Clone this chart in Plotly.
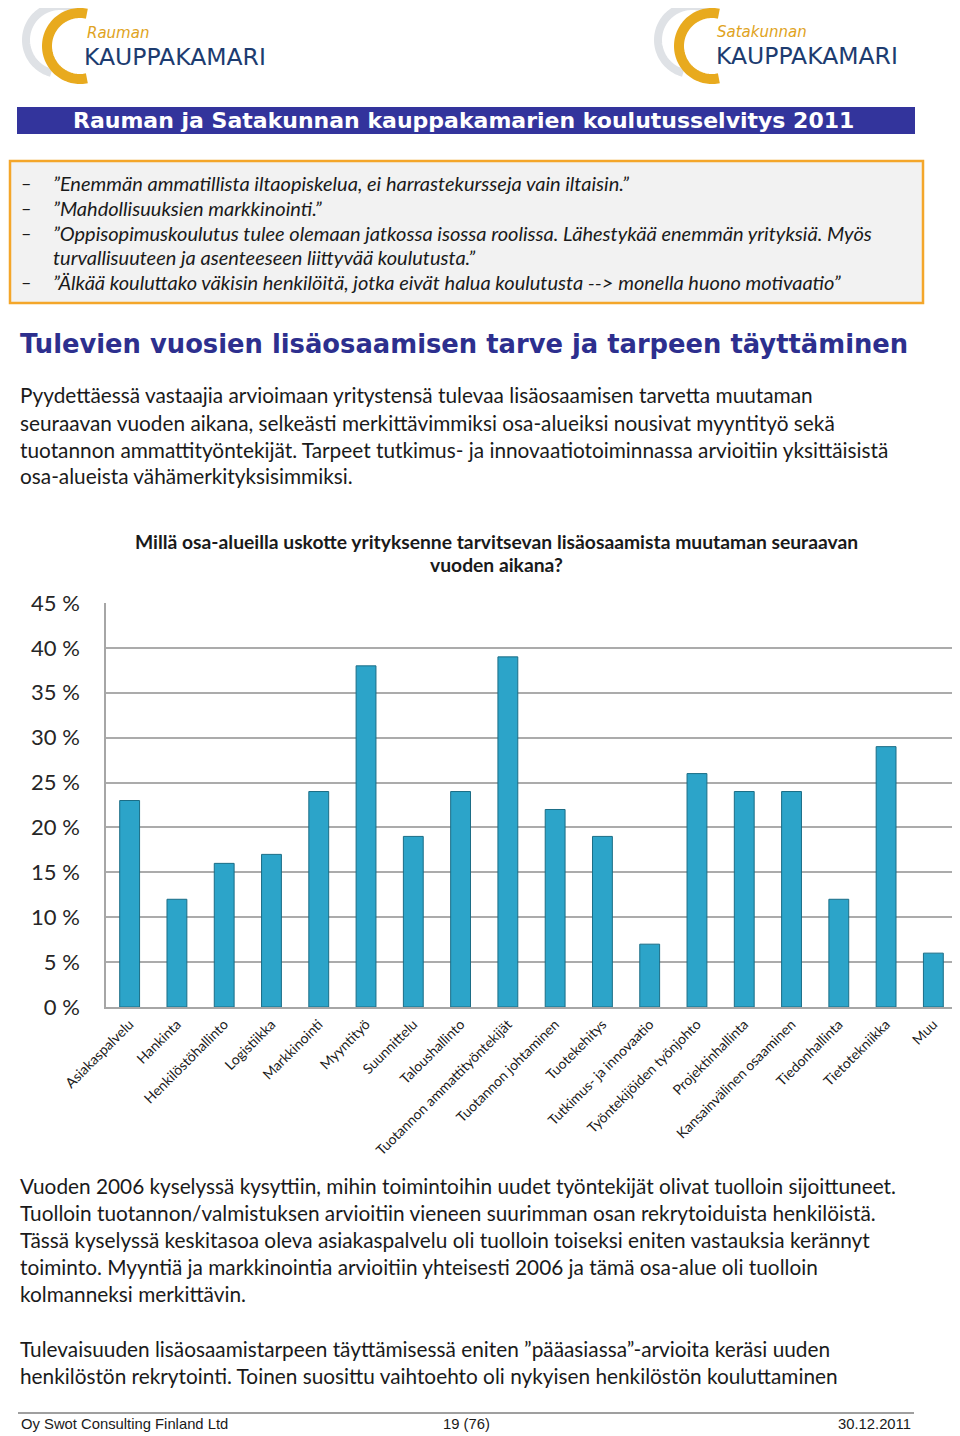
import numpy as np
import plotly.graph_objects as go

# page is 960x1436 but the html body has an 8px margin (top/left)
OFF = 8
W, H = 960 - OFF, 1436 - OFF

# ---------------- data ----------------
categories = [
    "Asiakaspalvelu", "Hankinta", "Henkilöstöhallinto", "Logistiikka",
    "Markkinointi", "Myyntityö", "Suunnittelu", "Taloushallinto",
    "Tuotannon ammattityöntekijät", "Tuotannon johtaminen", "Tuotekehitys",
    "Tutkimus- ja innovaatio", "Työntekijöiden työnjohto", "Projektinhallinta",
    "Kansainvälinen osaaminen", "Tiedonhallinta", "Tietotekniikka", "Muu",
]
values = [23, 12, 16, 17, 24, 38, 19, 24, 39, 22, 19, 7, 26, 24, 24, 12, 29, 6]
y_ticks = [0, 5, 10, 15, 20, 25, 30, 35, 40, 45]
y_ticktext = ["0 %", "5 %", "10 %", "15 %", "20 %", "25 %", "30 %", "35 %", "40 %", "45 %"]

chart_title = ["Millä osa-alueilla uskotte yrityksenne tarvitsevan lisäosaamista muutaman seuraavan",
               "vuoden aikana?"]
header_title = "Rauman ja Satakunnan kauppakamarien koulutusselvitys 2011"
section_title = "Tulevien vuosien lisäosaamisen tarve ja tarpeen täyttäminen"
quotes = [
    ("–", "”Enemmän ammatillista iltaopiskelua, ei harrastekursseja vain iltaisin.”"),
    ("–", "”Mahdollisuuksien markkinointi.”"),
    ("–", "”Oppisopimuskoulutus tulee olemaan jatkossa isossa roolissa. Lähestykää enemmän yrityksiä. Myös"),
    ("", "turvallisuuteen ja asenteeseen liittyvää koulutusta.”"),
    ("–", "”Älkää kouluttako väkisin henkilöitä, jotka eivät halua koulutusta --> monella huono motivaatio”"),
]
intro_lines = [
    "Pyydettäessä vastaajia arvioimaan yritystensä tulevaa lisäosaamisen tarvetta muutaman",
    "seuraavan vuoden aikana, selkeästi merkittävimmiksi osa-alueiksi nousivat myyntityö sekä",
    "tuotannon ammattityöntekijät. Tarpeet tutkimus- ja innovaatiotoiminnassa arvioitiin yksittäisistä",
    "osa-alueista vähämerkityksisimmiksi.",
]
outro_lines_1 = [
    "Vuoden 2006 kyselyssä kysyttiin, mihin toimintoihin uudet työntekijät olivat tuolloin sijoittuneet.",
    "Tuolloin tuotannon/valmistuksen arvioitiin vieneen suurimman osan rekrytoiduista henkilöistä.",
    "Tässä kyselyssä keskitasoa oleva asiakaspalvelu oli tuolloin toiseksi eniten vastauksia kerännyt",
    "toiminto. Myyntiä ja markkinointia arvioitiin yhteisesti 2006 ja tämä osa-alue oli tuolloin",
    "kolmanneksi merkittävin.",
]
outro_lines_2 = [
    "Tulevaisuuden lisäosaamistarpeen täyttämisessä eniten ”pääasiassa”-arvioita keräsi uuden",
    "henkilöstön rekrytointi. Toinen suosittu vaihtoehto oli nykyisen henkilöstön kouluttaminen",
]
footer = ("Oy Swot Consulting Finland Ltd", "19 (76)", "30.12.2011")


# ---------------- helpers (page pixel -> paper) ----------------
def px(x):
    return (x - OFF) / W


def py(y):
    return 1 - (y - OFF) / H


def arc_path(cx, cy, r, a0, a1, n=80):
    t = np.radians(np.linspace(a0, a1, n))
    xs = cx + r * np.cos(t)
    ys = cy - r * np.sin(t)
    pts = [f"{px(x):.5f},{py(y):.5f}" for x, y in zip(xs, ys)]
    return "M " + " L ".join(pts)


BODY_FONT = "Lato"
TEXT_COLOR = "#1a1a1a"

fig = go.Figure()
fig.add_trace(go.Bar(
    x=categories, y=values,
    marker=dict(color="#2ca4c9", line=dict(color="#1b6d86", width=1)),
    hoverinfo="x+y",
))

shapes = []
annotations = []


def note(text, x, y, size, family=BODY_FONT, color=TEXT_COLOR, xanchor="left", **font_kw):
    annotations.append(dict(text=text, x=px(x), y=py(y), xanchor=xanchor, yanchor="middle",
                            font=dict(family=family, size=size, color=color, **font_kw),
                            borderpad=0,
                            showarrow=False, xref="paper", yref="paper"))


# --- logos ---
for (gcx, gcy, ccx, ccy) in [(60, 40, 80, 46), (692, 40, 712, 46)]:
    shapes.append(dict(type="path", xref="paper", yref="paper",
                       path=arc_path(gcx, gcy, 34, 55, 255),
                       line=dict(color="#dfe2e6", width=8)))
    shapes.append(dict(type="path", xref="paper", yref="paper",
                       path=arc_path(ccx, ccy, 33, 78, 282),
                       line=dict(color="#e8aa1e", width=10)))

note("Rauman", 86, 33, 15, family="DejaVu Sans", color="#e0a321", style="italic")
note("KAUPPAKAMARI", 83, 57, 23.5, family="DejaVu Sans", color="#1d3c70")
note("Satakunnan", 716, 32, 15, family="DejaVu Sans", color="#e0a321", style="italic")
note("KAUPPAKAMARI", 715, 56, 23.5, family="DejaVu Sans", color="#1d3c70")

# --- header bar ---
shapes.append(dict(type="rect", xref="paper", yref="paper",
                   x0=px(17), x1=px(915), y0=py(134), y1=py(107),
                   fillcolor="#33349c", line=dict(width=0)))
note(f"<b>{header_title}</b>", 72, 121, 22, family="DejaVu Sans", color="white")

# --- quote box ---
shapes.append(dict(type="rect", xref="paper", yref="paper",
                   x0=px(10), x1=px(923), y0=py(303), y1=py(161),
                   fillcolor="#f2f2f2", line=dict(color="#f4a62a", width=2.5)))
qy = [183, 208, 233, 257, 282]
for (dash, line), yy in zip(quotes, qy):
    if dash:
        note(dash, 20, yy, 18)
    note(f"<i>{line}</i>", 52, yy, 20)

# --- section title ---
note(f"<b>{section_title}</b>", 19, 344, 25.8, family="DejaVu Sans", color="#2d2f8e")


# --- paragraphs ---
def add_lines(lines, y0, step=27):
    for i, line in enumerate(lines):
        note(line, 19, y0 + i * step, 20.8)


add_lines(intro_lines, 395)
add_lines(outro_lines_1, 1185)
add_lines(outro_lines_2, 1348)

# --- chart title ---
for i, t in enumerate(chart_title):
    note(f"<b>{t}</b>", 497, 541 + i * 24, 19.3, xanchor="center")

# --- footer ---
shapes.append(dict(type="line", xref="paper", yref="paper",
                   x0=px(18), x1=px(914), y0=py(1413), y1=py(1413),
                   line=dict(color="#7f7f7f", width=1.5)))
note(footer[0], 20, 1424, 14.8, family="Liberation Sans")
note(footer[1], 466, 1424, 14.8, family="Liberation Sans", xanchor="center")
note(footer[2], 912, 1424, 14.8, family="Liberation Sans", xanchor="right")

fig.update_layout(
    width=W, height=H,
    margin=dict(l=0, r=0, t=0, b=0),
    paper_bgcolor="white", plot_bgcolor="white",
    showlegend=False,
    bargap=0.58,
    shapes=shapes,
    annotations=annotations,
    xaxis=dict(
        domain=[px(106), min(px(957), 1.0)],
        tickangle=-45,
        tickfont=dict(family=BODY_FONT, size=14, color=TEXT_COLOR),
        showline=True, linecolor="#a6a6a6", linewidth=1.5,
        ticks="outside", ticklen=2, tickcolor="rgba(0,0,0,0)",
        showgrid=False, automargin=False, fixedrange=True,
    ),
    yaxis=dict(
        domain=[py(1007), py(603)],
        range=[0, 45],
        tickvals=y_ticks,
        ticktext=y_ticktext,
        tickfont=dict(family=BODY_FONT, size=22, color="#262626"),
        showgrid=True, gridcolor="#ababab", gridwidth=1.5,
        showline=True, linecolor="#a6a6a6", linewidth=1.5,
        zeroline=False,
        ticklabelstandoff=20,
        automargin=False, fixedrange=True,
    ),
)

fig.write_html("out.html")
